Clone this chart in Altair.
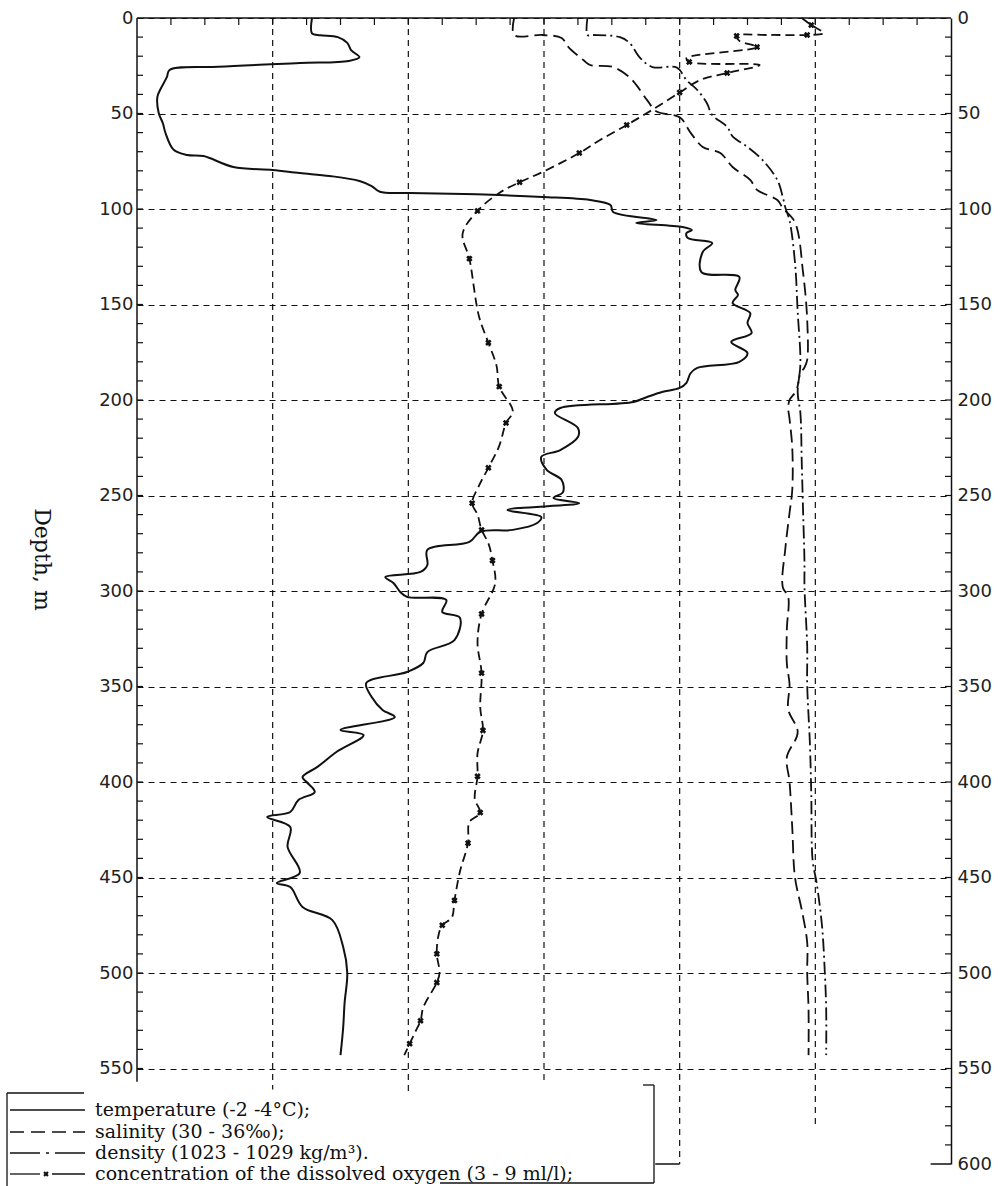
import altair as alt
import pandas as pd

# ---------------- profile data ----------------
# Water temperature, degC
temp_depth = [0, 8, 9, 10, 13, 17, 20.5, 22.5, 23.6, 25.5,
              27.2, 31, 37.7, 41.4, 49.7, 55, 60.2, 69, 71.7, 72.3,
              78, 79.6, 81.2, 82.7, 85.3, 88, 91, 91.6, 92, 92.7,
              93.7, 95.3, 97.9, 101.6, 105.8, 107.3, 109.4, 111, 112.6, 115.2,
              117.8, 122.5, 133, 135.6, 142.4, 145, 149.2, 154.5, 159.7, 165,
              169.6, 175.4, 180, 183.2, 186, 191, 193.7, 195.8, 198.4, 201,
              204.2, 206.8, 214.7, 219.4, 226.2, 229.8, 236.6, 241.9, 248.2, 251.3,
              254, 257.6, 261.3, 264.4, 268, 269, 274.3, 278.5, 286.4, 290,
              292.7, 295.8, 300.5, 303.1, 304.7, 311, 314, 325.7, 332, 337.7,
              342.4, 348.2, 355.5, 362.3, 366, 372.8, 375.4, 384.3, 392.1, 397.4,
              400, 405.2, 409.4, 415.7, 418.3, 423.6, 434, 447.6, 452.9, 455,
              465.4, 472.3, 486.4, 500, 515.7, 528.3, 543]
temp_c = [-0.71, -0.71, -0.65, -0.52, -0.45, -0.42, -0.36, -0.44, -0.80, -1.40,
          -1.76, -1.78, -1.83, -1.85, -1.84, -1.81, -1.79, -1.73, -1.63, -1.51,
          -1.29, -1.00, -0.80, -0.58, -0.36, -0.27, -0.21, 0.01, 0.31, 0.67,
          0.99, 1.34, 1.49, 1.51, 1.83, 1.68, 2.02, 2.09, 2.05, 2.06,
          2.24, 2.17, 2.16, 2.44, 2.41, 2.43, 2.39, 2.52, 2.50, 2.53,
          2.38, 2.50, 2.44, 2.13, 2.08, 2.05, 2.00, 1.87, 1.76, 1.66,
          1.12, 1.08, 1.25, 1.25, 1.12, 0.98, 1.02, 1.13, 1.14, 1.07,
          1.26, 0.73, 0.98, 0.95, 0.77, 0.53, 0.45, 0.14, 0.14, 0.09,
          -0.17, -0.11, -0.06, -0.01, 0.28, 0.25, 0.38, 0.34, 0.14, 0.11,
          -0.01, -0.31, -0.27, -0.19, -0.10, -0.50, -0.33, -0.53, -0.67, -0.78,
          -0.75, -0.69, -0.81, -0.87, -1.04, -0.87, -0.89, -0.80, -0.97, -0.87,
          -0.78, -0.56, -0.48, -0.45, -0.47, -0.48, -0.50]

# Salinity, per mille
sal_depth = [0, 8.9, 8.9, 10.5, 15.2, 22, 24.6, 25.7, 31, 35,
             43, 49, 52, 60, 67.5, 70.7, 78, 84.8, 90, 95.3,
             99.5, 107, 133.5, 158, 179, 183, 186, 195, 200, 204,
             210, 225, 247, 259, 277, 298, 303, 320, 338, 349,
             362, 374, 387, 400, 424, 450, 467, 484, 500, 519, 543]
sal_ppt = [32.78, 32.78, 32.99, 33.13, 33.18, 33.29, 33.34, 33.51, 33.63, 33.68,
           33.76, 33.83, 34.00, 34.08, 34.17, 34.30, 34.39, 34.52, 34.57, 34.72,
           34.76, 34.85, 34.91, 34.94, 34.94, 34.92, 34.89, 34.86, 34.81, 34.80,
           34.81, 34.83, 34.83, 34.81, 34.78, 34.76, 34.80, 34.79, 34.79, 34.81,
           34.80, 34.87, 34.79, 34.81, 34.83, 34.85, 34.90, 34.94, 34.94, 34.95, 34.95]

# Density, kg/m3
dens_depth = [0, 8.9, 8.9, 10, 13, 21, 25.7, 26, 32.5, 37.7,
              44.5, 50.8, 57, 62, 67.5, 74.3, 84.8, 93.7, 99.5, 106,
              128, 154, 181, 196, 207, 233, 259, 285, 298, 329,
              349, 380, 406, 441, 453, 476, 500, 519, 543]
dens_kgm3 = [1026.32, 1026.32, 1026.36, 1026.56, 1026.63, 1026.71, 1026.80, 1026.98, 1027.05, 1027.13,
             1027.20, 1027.24, 1027.35, 1027.39, 1027.50, 1027.61, 1027.72, 1027.76, 1027.78, 1027.81,
             1027.85, 1027.87, 1027.89, 1027.87, 1027.89, 1027.90, 1027.91, 1027.92, 1027.92, 1027.94,
             1027.94, 1027.96, 1027.97, 1027.98, 1028.01, 1028.05, 1028.07, 1028.08, 1028.08]

# Dissolved oxygen, ml/l
oxy_depth = [0, 3.7, 7.9, 8.9, 8.9, 9.4, 12, 15.2, 21, 23,
             24.6, 28.8, 32.5, 39, 48, 56, 64, 70.7, 80.6, 86,
             91.6, 101, 113, 126, 156, 170, 182, 193, 206, 212,
             224, 235.5, 245, 254, 260, 268, 275, 284, 296, 312,
             327, 343, 361, 373, 385, 397, 409, 416, 421, 432,
             447, 462, 471, 475, 481, 490, 500, 505, 518, 525,
             531, 537, 543]
oxy_mll = [7.90, 7.97, 8.06, 7.94, 7.66, 7.42, 7.44, 7.57, 7.05, 7.07,
           7.59, 7.35, 7.15, 7.00, 6.80, 6.61, 6.41, 6.26, 5.99, 5.82,
           5.67, 5.51, 5.40, 5.45, 5.52, 5.59, 5.65, 5.67, 5.77, 5.72,
           5.67, 5.59, 5.52, 5.47, 5.51, 5.54, 5.59, 5.62, 5.64, 5.54,
           5.51, 5.54, 5.53, 5.55, 5.51, 5.51, 5.49, 5.53, 5.45, 5.44,
           5.38, 5.34, 5.32, 5.25, 5.22, 5.21, 5.23, 5.21, 5.11, 5.09,
           5.05, 5.01, 4.97]

# Each variable spans 6 units across the plot, starting from these values
range_low = {"temperature": -2, "salinity": 30, "density": 1023, "oxygen": 3}

depth_labels_left = list(range(0, 551, 50))
depth_labels_right = list(range(0, 601, 50))
grid_columns = [1, 2, 3, 4, 5]

legend_labels = [
    "temperature  (-2 -4\u00b0C);",
    "salinity (30 - 36\u2030);",
    "density (1023 - 1029 kg/m\u00b3).",
    "concentration of the dissolved oxygen (3 - 9 ml/l);",
]

# ---------------- layout ----------------
W, H = 814, 1146
PAD = {"left": 137, "top": 18, "right": 51, "bottom": 22}
INK = "#111111"
SERIF = "DejaVu Serif"
SANS = "DejaVu Sans"

one_row = pd.DataFrame({"k": [0]})


def profile(name, depth, values):
    low = range_low[name]
    return pd.DataFrame({
        "depth": depth,
        "value": values,
        "pos": [v - low for v in values],
        "i": list(range(len(depth))),
    })


temp_df = profile("temperature", temp_depth, temp_c)
sal_df = profile("salinity", sal_depth, sal_ppt)
dens_df = profile("density", dens_depth, dens_kgm3)
oxy_df = profile("oxygen", oxy_depth, oxy_mll)

xs = alt.Scale(domain=[0, 6], nice=False, zero=False)
ys = alt.Scale(domain=[0, 600], reverse=True, nice=False, zero=False)

left_axis = alt.Axis(
    orient="left", values=depth_labels_left, domain=False, ticks=False,
    grid=True, gridDash=[6, 5], gridColor=INK, gridWidth=1.2, gridOpacity=1,
    labelFont=SANS, labelFontSize=18, labelColor="#222222", labelPadding=4,
    title="Depth, m", titleFont=SERIF, titleFontSize=22, titleFontWeight="normal",
    titleColor=INK, titleAngle=90, titleX=-96, titleY=541,
    titleAlign="center", titleBaseline="middle",
)
right_axis = alt.Axis(
    orient="right", values=depth_labels_right, domain=True, domainColor=INK,
    domainWidth=1.5, ticks=False, grid=False,
    labelFont=SANS, labelFontSize=18, labelColor="#222222", labelPadding=6,
    title="",
)


def profile_line(df, width, dash=None, axis=None):
    style = {"color": INK, "strokeWidth": width, "interpolate": "catmull-rom"}
    if dash:
        style["strokeDash"] = dash
    y = alt.Y("depth:Q", scale=ys, axis=axis) if axis is not None else alt.Y("depth:Q", scale=ys, axis=None)
    return alt.Chart(df).mark_line(**style).encode(
        x=alt.X("pos:Q", scale=xs, axis=None),
        y=y,
        order=alt.Order("i:Q"),
    )


temp_line = profile_line(temp_df, 2.0, axis=left_axis)
sal_line = profile_line(sal_df, 1.8, dash=[13, 6], axis=right_axis)
dens_line = profile_line(dens_df, 1.8, dash=[13, 4, 2, 4])
oxy_line = profile_line(oxy_df, 1.8, dash=[9, 5])

oxy_marks = alt.Chart(oxy_df).transform_filter("datum.i % 2 == 1").mark_point(
    shape="cross", angle=45, filled=True, size=42, color=INK, opacity=1
).encode(
    x=alt.X("pos:Q", scale=xs, axis=None),
    y=alt.Y("depth:Q", scale=ys, axis=None),
)

# vertical grid columns with their own lower ends
grid_df = pd.DataFrame({"u": grid_columns, "top": [0] * 5, "end": [561, 562, 556, 600, 580]})
vgrid = alt.Chart(grid_df).mark_rule(
    color=INK, strokeWidth=1.2, strokeDash=[6, 5]
).encode(
    x=alt.X("u:Q", scale=xs, axis=None),
    y=alt.Y("top:Q", scale=ys, axis=None),
    y2="end:Q",
)

# frame lines, given in data units
frame_df = pd.DataFrame({
    "x0": [0, 0, 5.85, 3.82],
    "x1": [6, 0, 6, 4],
    "y0": [0, 0, 600, 600],
    "y1": [0, 557, 600, 600],
})
frame = alt.Chart(frame_df).mark_rule(color=INK, strokeWidth=1.5).encode(
    x=alt.X("x0:Q", scale=xs, axis=None), x2="x1:Q",
    y=alt.Y("y0:Q", scale=ys, axis=None), y2="y1:Q",
)

# minor ticks pointing into the plot
left_ticks = alt.Chart(pd.DataFrame({"d": list(range(10, 560, 10))})).mark_rule(
    color=INK, strokeWidth=1.2
).encode(x=alt.value(0), x2=alt.value(6), y=alt.Y("d:Q", scale=ys, axis=None))
right_ticks = alt.Chart(pd.DataFrame({"d": list(range(10, 600, 10))})).mark_rule(
    color=INK, strokeWidth=1.2
).encode(x=alt.value(W - 6), x2=alt.value(W), y=alt.Y("d:Q", scale=ys, axis=None))
top_ticks = alt.Chart(pd.DataFrame({"u": [q / 4 for q in range(1, 24)]})).mark_rule(
    color=INK, strokeWidth=1.2
).encode(x=alt.X("u:Q", scale=xs, axis=None), y=alt.value(0), y2=alt.value(7))

# ---------------- legend ----------------
row_y = [1092, 1114, 1135, 1156]
sample_x0, sample_x1, text_x = -127, -52, -42
legend_dash = [None, [14, 7], [30, 6, 3, 6], None]

legend_layers = []
for k, label in enumerate(legend_labels):
    legend_layers.append(
        alt.Chart(one_row).mark_text(
            text=label, font=SERIF, fontSize=19, color=INK, align="left", baseline="middle"
        ).encode(x=alt.value(text_x), y=alt.value(row_y[k]))
    )
    if k < 3:
        kw = {"color": INK, "strokeWidth": 1.3}
        if legend_dash[k]:
            kw["strokeDash"] = legend_dash[k]
        legend_layers.append(
            alt.Chart(one_row).mark_rule(**kw).encode(
                x=alt.value(sample_x0), x2=alt.value(sample_x1), y=alt.value(row_y[k])
            )
        )
# oxygen sample: dash, cross, dash
legend_layers.append(alt.Chart(one_row).mark_rule(color=INK, strokeWidth=1.3).encode(
    x=alt.value(sample_x0), x2=alt.value(-97), y=alt.value(row_y[3])))
legend_layers.append(alt.Chart(one_row).mark_rule(color=INK, strokeWidth=1.3).encode(
    x=alt.value(-85), x2=alt.value(sample_x1), y=alt.value(row_y[3])))
legend_layers.append(alt.Chart(one_row).mark_point(
    shape="cross", angle=45, filled=True, size=30, color=INK, opacity=1
).encode(x=alt.value(-91), y=alt.value(row_y[3])))

# legend frame: open bracket shape
box = [
    (-130, -130, 1075, 1168),   # left side
    (-130, -53, 1075, 1075),    # top-left stub
    (517, 517, 1067, 1165),     # right side
    (506, 517, 1067, 1067),     # top-right stub
    (303, 517, 1165, 1165),     # bottom
]
for x0, x1, y0, y1 in box:
    legend_layers.append(alt.Chart(one_row).mark_rule(color=INK, strokeWidth=1.3).encode(
        x=alt.value(x0), x2=alt.value(x1), y=alt.value(y0), y2=alt.value(y1)))

chart = alt.layer(
    temp_line, sal_line, vgrid, frame,
    left_ticks, right_ticks, top_ticks,
    dens_line, oxy_line, oxy_marks,
    *legend_layers,
).resolve_axis(y="independent").properties(
    width=W, height=H,
    autosize=alt.AutoSizeParams(type="none"),
    padding=PAD,
    background="white",
).configure_view(strokeWidth=0)

chart.save("out.html", embed_options={"renderer": "svg", "actions": False})
